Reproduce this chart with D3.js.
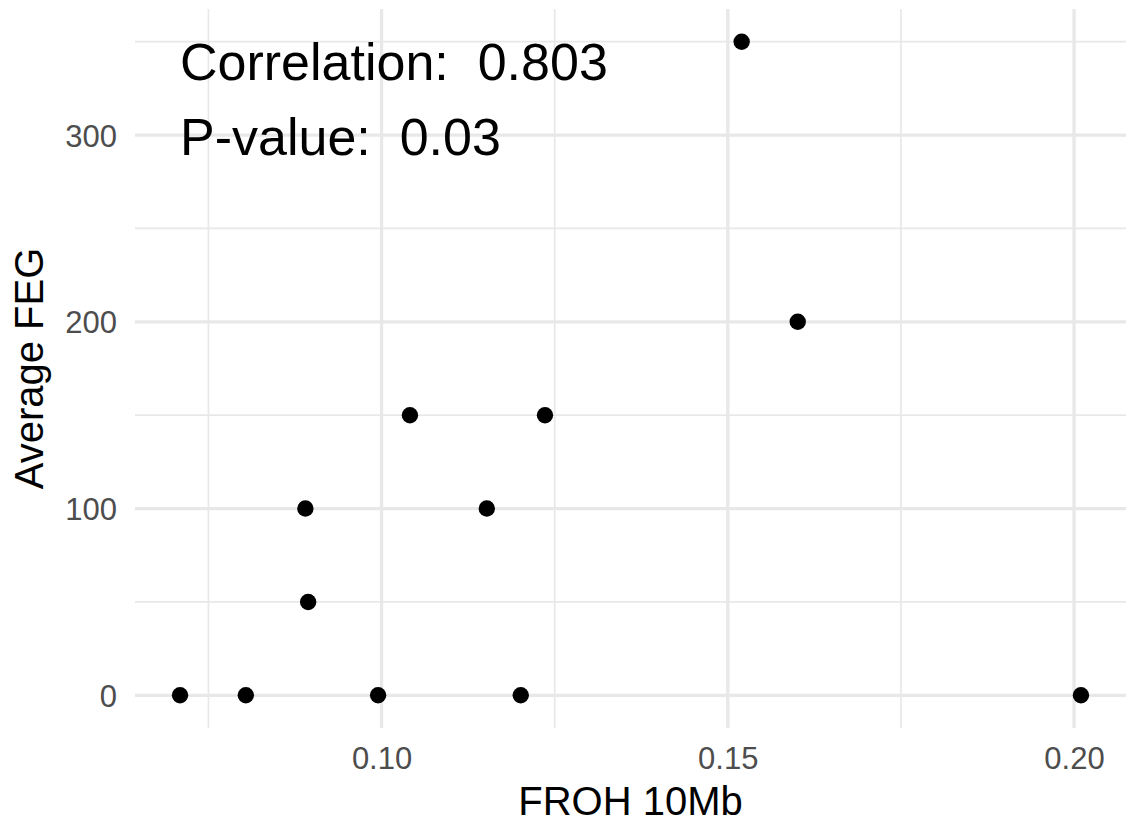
<!DOCTYPE html>
<html>
<head>
<meta charset="utf-8">
<script src="https://cdn.jsdelivr.net/npm/d3@7"></script>
<style>
  html, body { margin: 0; padding: 0; background: #fff; }
  svg { display: block; font-family: "Liberation Sans", Arial, Helvetica, sans-serif; }
  .stat { white-space: pre; }
</style>
</head>
<body>
<svg id="chart" width="1128" height="823"></svg>
<script>
// FROH 10Mb vs Average FEG
const froh = [0.0709, 0.0804, 0.0890, 0.0894, 0.0995, 0.1041, 0.1152, 0.1201, 0.1236, 0.1520, 0.1601, 0.2010];
const feg  = [0,      0,      100,    50,     0,      150,    100,    0,      150,    350,    200,    0];
const xTicks = [0.10, 0.15, 0.20];
const xMinor = [0.075, 0.125, 0.175];
const yTicks = [0, 100, 200, 300];
const yMinor = [50, 150, 250, 350];
const statLines = ["Correlation:  0.803", "P-value:  0.03"];

const W = 1128, H = 823;
const panel = { left: 135, right: 1126, top: 9, bottom: 728 };

// ggplot-style 5% expansion of the data range
const xExt = d3.extent(froh), yExt = d3.extent(feg);
const xPad = (xExt[1] - xExt[0]) * 0.05, yPad = (yExt[1] - yExt[0]) * 0.05;
const x = d3.scaleLinear().domain([xExt[0] - xPad, xExt[1] + xPad]).range([panel.left, panel.right]);
const y = d3.scaleLinear().domain([yExt[0] - yPad, yExt[1] + yPad]).range([panel.bottom, panel.top]);

const svg = d3.select("#chart");
const grid = svg.append("g");
const gridColor = "#e8e8e8";

// minor grid
grid.selectAll(".xminor").data(xMinor).join("line")
  .attr("x1", d => x(d)).attr("x2", d => x(d))
  .attr("y1", panel.top).attr("y2", panel.bottom)
  .attr("stroke", gridColor).attr("stroke-width", 1.7);
grid.selectAll(".yminor").data(yMinor).join("line")
  .attr("y1", d => y(d)).attr("y2", d => y(d))
  .attr("x1", panel.left).attr("x2", panel.right)
  .attr("stroke", gridColor).attr("stroke-width", 1.7);

// major grid
grid.selectAll(".xmajor").data(xTicks).join("line")
  .attr("x1", d => x(d)).attr("x2", d => x(d))
  .attr("y1", panel.top).attr("y2", panel.bottom)
  .attr("stroke", gridColor).attr("stroke-width", 3.3);
grid.selectAll(".ymajor").data(yTicks).join("line")
  .attr("y1", d => y(d)).attr("y2", d => y(d))
  .attr("x1", panel.left).attr("x2", panel.right)
  .attr("stroke", gridColor).attr("stroke-width", 3.3);

// axes (labels only, theme_minimal has no axis lines)
const xAxis = svg.append("g")
  .attr("transform", `translate(0,${panel.bottom})`)
  .call(d3.axisBottom(x).tickValues(xTicks).tickFormat(d3.format(".2f")).tickSize(0));
const yAxis = svg.append("g")
  .attr("transform", `translate(${panel.left},0)`)
  .call(d3.axisLeft(y).tickValues(yTicks).tickFormat(d3.format("d")).tickSize(0).tickPadding(18));
[xAxis, yAxis].forEach(a => {
  a.select(".domain").remove();
  a.selectAll("text")
    .attr("fill", "#4d4d4d")
    .style("font-size", "31px")
    .style("font-family", "'Liberation Sans', Arial, sans-serif");
});
xAxis.selectAll("text").attr("dy", null).attr("y", 41);
yAxis.selectAll("text").attr("dy", "0.36em");

// points
svg.append("g").selectAll("circle")
  .data(froh.map((f, i) => ({ f, v: feg[i] })))
  .join("circle")
  .attr("cx", d => x(d.f))
  .attr("cy", d => y(d.v))
  .attr("r", 8.2)
  .attr("fill", "#000");

// correlation annotation
svg.append("g").selectAll("text").data(statLines).join("text")
  .attr("class", "stat")
  .attr("xml:space", "preserve")
  .attr("x", 180)
  .attr("y", (d, i) => 80 + i * 75)
  .attr("fill", "#000")
  .style("font-size", "52px")
  .text(d => d);

// axis titles
svg.append("text")
  .attr("x", (panel.left + panel.right) / 2)
  .attr("y", 815)
  .attr("text-anchor", "middle")
  .attr("fill", "#000")
  .style("font-size", "40px")
  .text("FROH 10Mb");

svg.append("text")
  .attr("transform", `translate(43,${(panel.top + panel.bottom) / 2}) rotate(-90)`)
  .attr("text-anchor", "middle")
  .attr("fill", "#000")
  .style("font-size", "40px")
  .text("Average FEG");
</script>
</body>
</html>
